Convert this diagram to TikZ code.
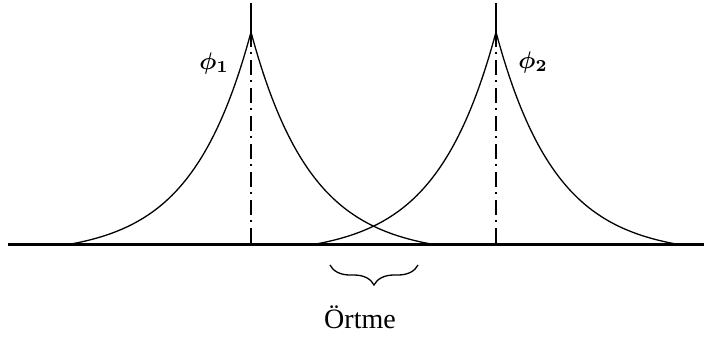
\documentclass[tikz,border=0pt]{standalone}
\usepackage{fontspec}
\setmainfont{Liberation Serif}
\usetikzlibrary{math}
\usetikzlibrary{decorations.pathreplacing}

\begin{document}
\begin{tikzpicture}[x=1pt,y=-1pt]
\tikzmath{
\A=223;
\L=60;
\C=11.1;
\base=244;
\pa=251;
\pb=496;
\w=184;
}
\useasboundingbox (0,0) rectangle (704,343);

% ground line
\coordinate (g0) at (8,\base);
\coordinate (g1) at (704,\base);
\draw[line width=3] (g0) -- (g1);

% the two peaks
\foreach \p/\n in {\pa/a,\pb/b}{
\coordinate (top\n) at (\p,3);
\coordinate (cusp\n) at (\p,{\base-\A+\C});
\coordinate (foot\n) at (\p,\base);
\draw[line width=1.3] plot[domain=0:\w, samples=80] ({\p-\x},{\base-(\A*exp(-\x/\L)-\C)});
\draw[line width=1.3] plot[domain=0:\w, samples=80] ({\p+\x},{\base-(\A*exp(-\x/\L)-\C)});
\draw[line width=1.5] (top\n) -- (cusp\n);
\draw[line width=2, dash pattern=on 15pt off 5pt on 2pt off 6pt] (cusp\n) -- (foot\n);
}

\node (phia) at (214,63) {\scalebox{2.4}{\boldmath$\phi_1$}};
\node (phib) at (533,62) {\scalebox{2.4}{\boldmath$\phi_2$}};

% overlap
\coordinate (bl) at (330,265);
\coordinate (br) at (418,265);
\draw[line width=1.3, decorate, decoration={brace, mirror, amplitude=20pt}] (bl) -- (br);
\node[font=\fontsize{28}{32}\selectfont, anchor=base] (ortme) at (360,328) {Örtme};

\end{tikzpicture}
\end{document}
